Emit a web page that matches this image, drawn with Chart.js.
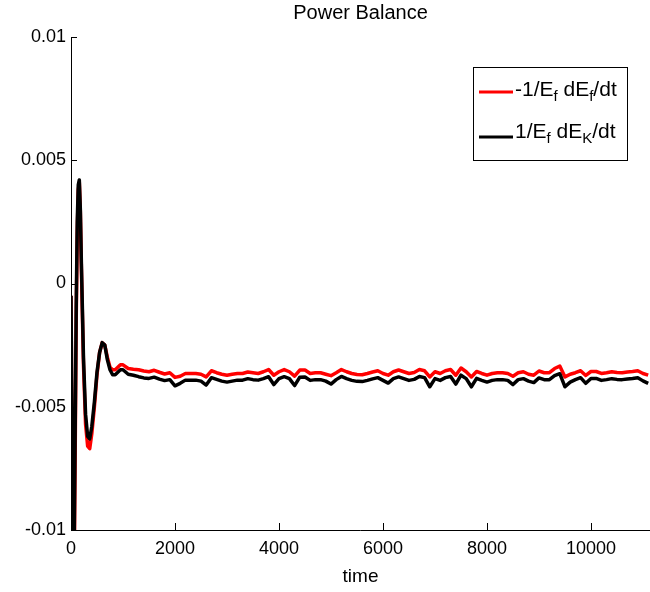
<!DOCTYPE html>
<html><head><meta charset="utf-8">
<script src="https://cdn.jsdelivr.net/npm/chart.js@4.4.0/dist/chart.umd.min.js"></script>
<style>html,body{margin:0;padding:0;background:#fff;}</style>
</head><body>
<canvas id="c" width="650" height="592"></canvas>
<script>
const time = [0,20,40,60,80,100,120,140,160,180,200,240,280,320,360,400,450,500,550,600,650,700,750,800,850,900,950,1000,
1100,1200,1300,1400,1500,1600,1700,1800,1900,2000,2100,2200,2300,2400,2500,2600,2700,2800,2900,3000,
3100,3200,3300,3400,3500,3600,3700,3800,3900,4000,4100,4200,4300,4400,4500,4600,4700,4800,4900,5000,
5100,5200,5300,5400,5500,5600,5700,5800,5900,6000,6100,6200,6300,6400,6500,6600,6700,6800,6900,7000,
7100,7200,7300,7400,7500,7600,7700,7800,7900,8000,8100,8200,8300,8400,8500,8600,8700,8800,8900,9000,
9100,9200,9300,9400,9500,9600,9700,9800,9900,10000,10100,10200,10300,10400,10500,10600,10700,10800,10900,11000,11100];

const redVals = [-0.0005,-0.007,-0.013,-0.012,-0.007,-0.0015,0.002,0.0038,0.0041,0.0029,0.0006,-0.0033,-0.0057,-0.0066,-0.0067,-0.0061,-0.0050,-0.0037,-0.0028,-0.0024,-0.0025,-0.0030,-0.0034,-0.0035,-0.0035,-0.0034,-0.0033,-0.0033,
-0.00345,-0.00348,-0.00350,-0.00355,-0.00358,-0.00352,-0.00360,-0.00367,-0.00362,-0.00381,-0.00376,-0.00365,-0.00365,-0.00365,-0.00368,-0.00379,-0.00354,-0.00362,-0.00368,-0.00372,
-0.00368,-0.00365,-0.00365,-0.00359,-0.00362,-0.00365,-0.00358,-0.00349,-0.00372,-0.00358,-0.00349,-0.00358,-0.00376,-0.00351,-0.00351,-0.00365,-0.00362,-0.00362,-0.00368,-0.00374,
-0.00362,-0.00349,-0.00358,-0.00365,-0.00369,-0.00370,-0.00365,-0.00359,-0.00354,-0.00365,-0.00372,-0.00358,-0.00351,-0.00358,-0.00365,-0.00361,-0.00349,-0.00354,-0.00379,-0.00358,
-0.00365,-0.00354,-0.00349,-0.00372,-0.00343,-0.00358,-0.00379,-0.00357,-0.00365,-0.00372,-0.00365,-0.00362,-0.00362,-0.00365,-0.00376,-0.00362,-0.00358,-0.00368,-0.00372,-0.00355,
-0.00362,-0.00362,-0.00345,-0.00335,-0.00379,-0.00368,-0.00362,-0.00354,-0.00373,-0.00357,-0.00357,-0.00365,-0.00362,-0.00358,-0.00361,-0.00362,-0.00359,-0.00357,-0.00354,-0.00365,-0.00372];

const blackVals = [-0.0005,-0.006,-0.012,-0.011,-0.006,-0.001,0.0025,0.0040,0.0042,0.0030,0.0008,-0.0030,-0.0053,-0.0062,-0.0063,-0.0058,-0.0048,-0.0036,-0.0028,-0.0024,-0.0025,-0.0031,-0.0035,-0.0037,-0.0037,-0.0036,-0.0035,-0.0035,
-0.00368,-0.00372,-0.00378,-0.00383,-0.00385,-0.00380,-0.00388,-0.00394,-0.00390,-0.00415,-0.00405,-0.00392,-0.00392,-0.00392,-0.00396,-0.00412,-0.00382,-0.00389,-0.00396,-0.00400,
-0.00396,-0.00392,-0.00392,-0.00386,-0.00390,-0.00392,-0.00386,-0.00378,-0.00410,-0.00386,-0.00378,-0.00386,-0.00414,-0.00380,-0.00379,-0.00393,-0.00390,-0.00390,-0.00396,-0.00408,
-0.00390,-0.00377,-0.00386,-0.00393,-0.00397,-0.00398,-0.00393,-0.00387,-0.00382,-0.00393,-0.00404,-0.00386,-0.00379,-0.00386,-0.00393,-0.00389,-0.00377,-0.00382,-0.00419,-0.00386,
-0.00393,-0.00382,-0.00377,-0.00408,-0.00372,-0.00386,-0.00419,-0.00385,-0.00393,-0.00400,-0.00393,-0.00390,-0.00390,-0.00393,-0.00410,-0.00390,-0.00386,-0.00396,-0.00402,-0.00383,
-0.00390,-0.00390,-0.00374,-0.00366,-0.00419,-0.00400,-0.00390,-0.00382,-0.00405,-0.00385,-0.00385,-0.00393,-0.00390,-0.00386,-0.00389,-0.00390,-0.00387,-0.00385,-0.00382,-0.00395,-0.00405];

const xTicks = [0,2000,4000,6000,8000,10000];
const yTicks = [-0.01,-0.005,0,0.005,0.01];
const yTickLabels = ['-0.01','-0.005','0','0.005','0.01'];
const titleText = 'Power Balance';
const xLabel = 'time';
const legendItems = [
  {color:'#ff0000', parts:[['-1/E',0],['f',1],[' dE',0],['f',1],['/dt',0]]},
  {color:'#000000', parts:[['1/E',0],['f',1],[' dE',0],['K',1],['/dt',0]]}
];

const FONT = "'Liberation Sans', Arial, Helvetica, sans-serif";

const axesPlugin = {
  id: 'matlabAxes',
  afterDatasetsDraw(chart) {
    const ctx = chart.ctx, a = chart.chartArea;
    const xs = chart.scales.x, ys = chart.scales.y;
    ctx.save();
    ctx.strokeStyle = '#000';
    ctx.lineWidth = 1;
    ctx.beginPath();
    ctx.moveTo(a.left + 0.5, a.top);
    ctx.lineTo(a.left + 0.5, a.bottom + 0.5);
    ctx.lineTo(a.right, a.bottom + 0.5);
    ctx.stroke();
    ctx.beginPath();
    xTicks.forEach(v => {
      const px = Math.round(xs.getPixelForValue(v)) + 0.5;
      ctx.moveTo(px, a.bottom);
      ctx.lineTo(px, a.bottom - 7);
    });
    yTicks.forEach(v => {
      const py = Math.round(ys.getPixelForValue(v)) + 0.5;
      ctx.moveTo(a.left, py);
      ctx.lineTo(a.left + 6, py);
    });
    ctx.stroke();
    ctx.restore();
  },
  afterDraw(chart) {
    const ctx = chart.ctx;
    ctx.save();
    const bx = 473, by = 67, bw = 154, bh = 93;
    ctx.fillStyle = '#fff';
    ctx.fillRect(bx, by, bw, bh);
    ctx.strokeStyle = '#000';
    ctx.lineWidth = 1;
    ctx.strokeRect(bx + 0.5, by + 0.5, bw, bh);
    const rows = [{lineY: 92, base: 96}, {lineY: 137, base: 138}];
    legendItems.forEach((it, i) => {
      const r = rows[i];
      ctx.strokeStyle = it.color;
      ctx.lineWidth = 3;
      ctx.beginPath();
      ctx.moveTo(479, r.lineY);
      ctx.lineTo(513, r.lineY);
      ctx.stroke();
      let x = 515;
      ctx.fillStyle = '#000';
      ctx.textBaseline = 'alphabetic';
      ctx.textAlign = 'left';
      it.parts.forEach(p => {
        if (p[1]) {
          ctx.font = '15px ' + FONT;
          ctx.fillText(p[0], x, r.base + 5);
        } else {
          ctx.font = '21px ' + FONT;
          ctx.fillText(p[0], x, r.base);
        }
        x += ctx.measureText(p[0]).width;
      });
    });
    ctx.restore();
  }
};

const ctx = document.getElementById('c').getContext('2d');
new Chart(ctx, {
  type: 'line',
  data: {
    datasets: [
      {label: '1/Ef dEK/dt', data: time.map((t, i) => ({x: t, y: blackVals[i]})), borderColor: '#000000', borderWidth: 3.5, borderJoinStyle: 'round', pointRadius: 0, tension: 0, fill: false},
      {label: '-1/Ef dEf/dt', data: time.map((t, i) => ({x: t, y: redVals[i]})), borderColor: '#ff0000', borderWidth: 3.5, borderJoinStyle: 'round', pointRadius: 0, tension: 0, fill: false}
    ]
  },
  options: {
    responsive: false,
    animation: false,
    devicePixelRatio: 1,
    layout: {padding: 0, autoPadding: false},
    plugins: {
      legend: {display: false},
      tooltip: {enabled: false},
      title: {display: true, text: titleText, fullSize: false, color: '#000',
        font: {family: FONT, size: 20, weight: 'normal'}, padding: {top: 1, bottom: 12}}
    },
    scales: {
      x: {
        type: 'linear', min: 0, max: 11135,
        grid: {display: false, drawTicks: false},
        border: {display: false},
        afterFit: s => { s.height = 62; },
        afterBuildTicks: s => { s.ticks = xTicks.map(v => ({value: v})); },
        ticks: {padding: 8, color: '#000', maxRotation: 0, autoSkip: false,
          font: {family: FONT, size: 18}, callback: v => String(v)},
        title: {display: true, text: xLabel, color: '#000', font: {family: FONT, size: 19}, padding: {top: 0, bottom: 4}}
      },
      y: {
        type: 'linear', min: -0.01, max: 0.01,
        grid: {display: false, drawTicks: false},
        border: {display: false},
        afterFit: s => { s.width = 71; },
        afterBuildTicks: s => { s.ticks = yTicks.map(v => ({value: v})); },
        ticks: {padding: 5, color: '#000', autoSkip: false,
          font: {family: FONT, size: 18}, callback: (v, i) => yTickLabels[i]}
      }
    }
  },
  plugins: [axesPlugin]
});
</script>
</body></html>
